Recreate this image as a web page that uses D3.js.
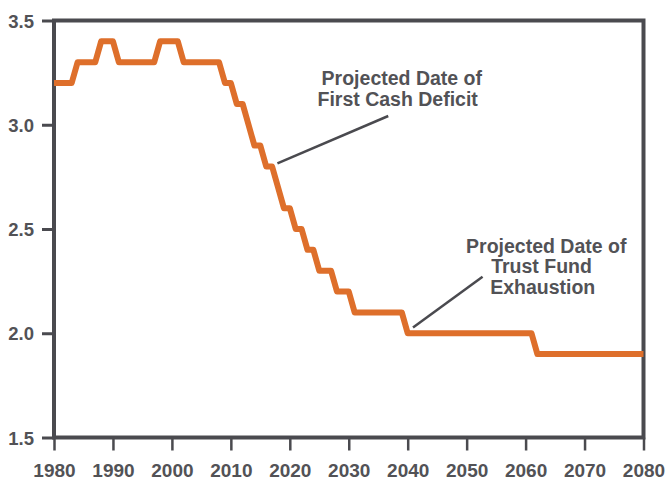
<!DOCTYPE html>
<html>
<head>
<meta charset="utf-8">
<script src="https://cdn.jsdelivr.net/npm/d3@7"></script>
<style>
  html, body { margin: 0; padding: 0; background: #ffffff; }
  svg { display: block; }
  text { font-family: "Liberation Sans", Arial, Helvetica, sans-serif; font-weight: bold; }
</style>
</head>
<body>
<svg id="chart" width="667" height="481"></svg>
<script>
// Workers per beneficiary, one value per year starting in 1980
const startYear = 1980;
const ratioValues = [
  3.2, 3.2, 3.2, 3.2,                 // 1980-1983
  3.3, 3.3, 3.3, 3.3,                 // 1984-1987
  3.4, 3.4, 3.4,                      // 1988-1990
  3.3, 3.3, 3.3, 3.3, 3.3, 3.3, 3.3,  // 1991-1997
  3.4, 3.4, 3.4, 3.4,                 // 1998-2001
  3.3, 3.3, 3.3, 3.3, 3.3, 3.3, 3.3,  // 2002-2008
  3.2, 3.2,                           // 2009-2010
  3.1, 3.1,                           // 2011-2012
  3.0,                                // 2013
  2.9, 2.9,                           // 2014-2015
  2.8, 2.8,                           // 2016-2017
  2.7,                                // 2018
  2.6, 2.6,                           // 2019-2020
  2.5, 2.5,                           // 2021-2022
  2.4, 2.4,                           // 2023-2024
  2.3, 2.3, 2.3,                      // 2025-2027
  2.2, 2.2, 2.2,                      // 2028-2030
  2.1, 2.1, 2.1, 2.1, 2.1, 2.1, 2.1, 2.1, 2.1,  // 2031-2039
  2.0, 2.0, 2.0, 2.0, 2.0, 2.0, 2.0, 2.0, 2.0, 2.0, 2.0,
  2.0, 2.0, 2.0, 2.0, 2.0, 2.0, 2.0, 2.0, 2.0, 2.0, 2.0, // 2040-2061
  1.9, 1.9, 1.9, 1.9, 1.9, 1.9, 1.9, 1.9, 1.9, 1.9,
  1.9, 1.9, 1.9, 1.9, 1.9, 1.9, 1.9, 1.9, 1.9         // 2062-2080
];

const xTickYears = [1980, 1990, 2000, 2010, 2020, 2030, 2040, 2050, 2060, 2070, 2080];
const yTickValues = [1.5, 2.0, 2.5, 3.0, 3.5];

// Callouts: text lines with anchor in data units, and leader line endpoints
const deficitLabel = ["Projected Date of", "First Cash Deficit"];
const deficitLabelAnchor = [[2039.0, 3.193], [2038.3, 3.092]];
const deficitLeader = [[2017.9, 2.815], [2036.7, 3.042]];

const exhaustionLabel = ["Projected Date of", "Trust Fund", "Exhaustion"];
const exhaustionLabelAnchor = [[2063.5, 2.386], [2062.7, 2.290], [2062.9, 2.186]];
const exhaustionLeader = [[2040.9, 2.028], [2052.7, 2.271]];

const series = ratioValues.map((v, i) => ({ year: startYear + i, value: v }));

const svg = d3.select("#chart");
const frameColor = "#4a4a4f";
const textColor = "#525256";
const lineColor = "#de6f2b";

const x = d3.scaleLinear().domain([1980, 2080]).range([54, 643.5]);
const y = d3.scaleLinear().domain([1.5, 3.5]).range([437.5, 20.5]);

// Y axis ticks and labels
const yAxis = svg.append("g")
  .attr("transform", `translate(${x(1980)},0)`)
  .call(d3.axisLeft(y).tickValues(yTickValues).tickFormat(d3.format(".1f")).tickSize(12).tickPadding(8));
yAxis.select(".domain").remove();
yAxis.selectAll(".tick line").attr("stroke", frameColor).attr("stroke-width", 3);
yAxis.selectAll(".tick text")
  .attr("fill", textColor)
  .style("font-size", "18.5px")
  .attr("dy", "0.36em");

// X axis ticks and labels
const xAxis = svg.append("g")
  .attr("transform", `translate(0,${y(1.5)})`)
  .call(d3.axisBottom(x).tickValues(xTickYears).tickFormat(d3.format("d")).tickSize(13).tickPadding(13));
xAxis.select(".domain").remove();
xAxis.selectAll(".tick line").attr("stroke", frameColor).attr("stroke-width", 2.5);
xAxis.selectAll(".tick text")
  .attr("fill", textColor)
  .style("font-size", "19px");

// Plot frame
svg.append("rect")
  .attr("x", x(1980))
  .attr("y", y(3.5))
  .attr("width", x(2080) - x(1980))
  .attr("height", y(1.5) - y(3.5))
  .attr("fill", "none")
  .attr("stroke", frameColor)
  .attr("stroke-width", 4);

// Data line
const line = d3.line().x(d => x(d.year)).y(d => y(d.value));
svg.append("path")
  .datum(series)
  .attr("d", line)
  .attr("fill", "none")
  .attr("stroke", lineColor)
  .attr("stroke-width", 6)
  .attr("stroke-linejoin", "round")
  .attr("stroke-linecap", "butt");

// Callouts
function callout(lines, anchors, leader) {
  svg.append("line")
    .attr("x1", x(leader[0][0])).attr("y1", y(leader[0][1]))
    .attr("x2", x(leader[1][0])).attr("y2", y(leader[1][1]))
    .attr("stroke", frameColor)
    .attr("stroke-width", 2.5);
  lines.forEach((t, i) => {
    svg.append("text")
      .attr("x", x(anchors[i][0]))
      .attr("y", y(anchors[i][1]))
      .attr("text-anchor", "middle")
      .attr("fill", textColor)
      .style("font-size", "19.5px")
      .text(t);
  });
}
callout(deficitLabel, deficitLabelAnchor, deficitLeader);
callout(exhaustionLabel, exhaustionLabelAnchor, exhaustionLeader);
</script>
</body>
</html>
